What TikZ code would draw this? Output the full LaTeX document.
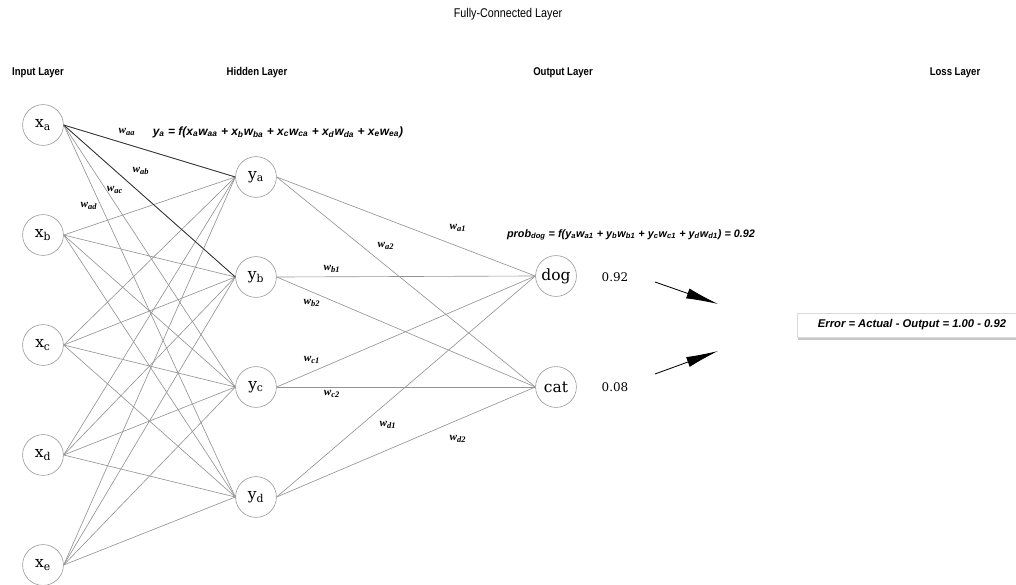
\documentclass[tikz,border=0pt]{standalone}
\usepackage{fontspec}
\usetikzlibrary{arrows.meta,shadows}
\newfontfamily\headfont{Liberation Sans}[FakeStretch=0.85]
\newfontfamily\eqfont{Liberation Sans}
\newfontfamily\wfont{Liberation Serif}
\newfontfamily\unitfont{DejaVu Serif}

\tikzset{
  unit/.style={circle, draw=gray!85, minimum size=1.02cm, inner sep=0pt, font=\unitfont\fontsize{11}{13}\selectfont},
  link/.style={draw=gray!85, line width=0.45pt},
  strong/.style={draw=gray!40!black, line width=0.55pt},
  title/.style={font=\headfont\fontsize{9}{11}\selectfont},
  layer/.style={font=\headfont\bfseries\fontsize{8}{10}\selectfont},
  weight/.style={font=\wfont\bfseries\itshape\fontsize{8}{10}\selectfont},
  formula/.style={font=\eqfont\bfseries\itshape\fontsize{8.5}{10}\selectfont},
  value/.style={font=\unitfont\fontsize{8.5}{10}\selectfont},
  arrow/.style={-{Latex[length=8mm,width=2.6mm]}, semithick},
  errbox/.style={draw=gray!30, fill=white, minimum width=5.75cm, minimum height=0.6cm,
    drop shadow={shadow xshift=0.4pt, shadow yshift=-1.8pt, opacity=0.45}}
}

\begin{document}
\begin{tikzpicture}[x=0.025cm, y=-0.025cm]
  \useasboundingbox (0,0) rectangle (1016,584);
  % headings
  \node[title] (fc) at (508,14) {Fully-Connected Layer};
  \node[layer] (inlayer) at (38,73) {Input Layer};
  \node[layer] (hidlayer) at (257,73) {Hidden Layer};
  \node[layer] (outlayer) at (563,73) {Output Layer};
  \node[layer] (losslayer) at (955,73) {Loss Layer};
  % units
  \node[unit] (xa) at (43,125) {x\textsubscript{a}};
  \node[unit] (xb) at (43,235) {x\textsubscript{b}};
  \node[unit] (xc) at (43,345) {x\textsubscript{c}};
  \node[unit] (xd) at (43,455) {x\textsubscript{d}};
  \node[unit] (xe) at (43,565) {x\textsubscript{e}};
  \node[unit] (ya) at (256,177) {y\textsubscript{a}};
  \node[unit] (yb) at (256,277) {y\textsubscript{b}};
  \node[unit] (yc) at (256,387) {y\textsubscript{c}};
  \node[unit] (yd) at (256,497) {y\textsubscript{d}};
  \node[unit] (dog) at (556,276) {dog};
  \node[unit] (cat) at (556,387) {cat};
  % connections
  \foreach \i in {a,b,c,d,e}
    \foreach \j in {a,b,c,d}
      \draw[link] (x\i.east) -- (y\j.west);
  \foreach \j in {a,b,c,d}
    \foreach \k in {dog,cat}
      \draw[link] (y\j.east) -- (\k.west);
  \draw[strong] (xa.east) -- (ya.west);
  \draw[strong] (xa.east) -- (yb.west);
  % weights
  \node[weight] (waa) at (127,132) {w\textsubscript{aa}};
  \node[weight] (wab) at (141,171) {w\textsubscript{ab}};
  \node[weight] (wac) at (115,190) {w\textsubscript{ac}};
  \node[weight] (wad) at (89,206) {w\textsubscript{ad}};
  \node[weight] (wa1) at (458,228) {w\textsubscript{a1}};
  \node[weight] (wa2) at (386,246) {w\textsubscript{a2}};
  \node[weight] (wb1) at (332,269) {w\textsubscript{b1}};
  \node[weight] (wb2) at (312,303) {w\textsubscript{b2}};
  \node[weight] (wc1) at (312,360) {w\textsubscript{c1}};
  \node[weight] (wc2) at (332,394) {w\textsubscript{c2}};
  \node[weight] (wd1) at (388,425) {w\textsubscript{d1}};
  \node[weight] (wd2) at (458,439) {w\textsubscript{d2}};
  % formulas
  \node[formula] (hidsum) at (278,132) {y\textsubscript{a} = f(x\textsubscript{a}w\textsubscript{aa} + x\textsubscript{b}w\textsubscript{ba} + x\textsubscript{c}w\textsubscript{ca} + x\textsubscript{d}w\textsubscript{da} + x\textsubscript{e}w\textsubscript{ea})};
  \node[formula, font=\eqfont\bfseries\itshape\fontsize{7.7}{9}\selectfont] (outsum) at (631,235) {prob\textsubscript{dog} = f(y\textsubscript{a}w\textsubscript{a1} + y\textsubscript{b}w\textsubscript{b1} + y\textsubscript{c}w\textsubscript{c1} + y\textsubscript{d}w\textsubscript{d1}) = 0.92};
  \node[value] (pdog) at (615,277) {0.92};
  \node[value] (pcat) at (615,387) {0.08};
  % loss
  \coordinate (dogtail) at (655,282);
  \coordinate (doghead) at (718,304);
  \coordinate (cattail) at (655,374);
  \coordinate (cathead) at (718,351);
  \draw[arrow] (dogtail) -- (doghead);
  \draw[arrow] (cattail) -- (cathead);
  \node[errbox, formula, font=\eqfont\bfseries\itshape\fontsize{8}{10}\selectfont] (err) at (912,325) {Error = Actual - Output = 1.00 - 0.92};
\end{tikzpicture}
\end{document}
